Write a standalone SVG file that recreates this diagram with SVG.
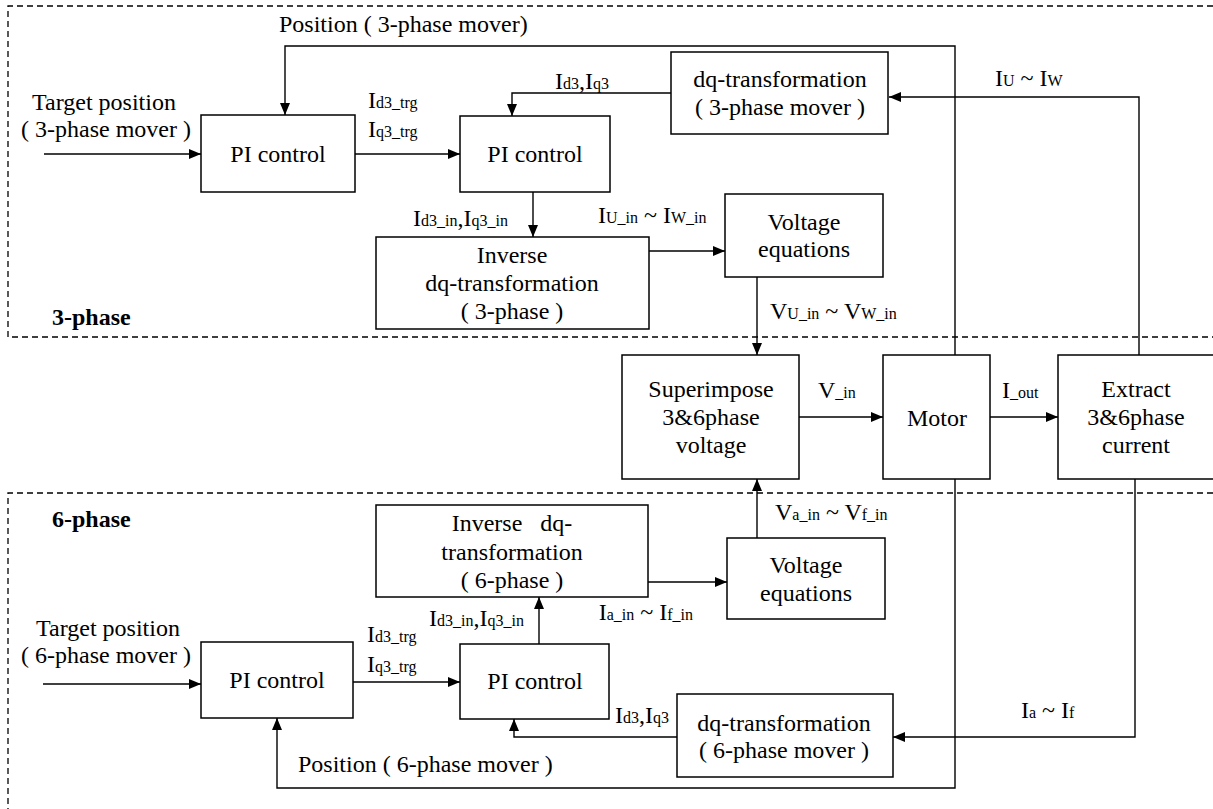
<svg xmlns="http://www.w3.org/2000/svg" width="1213" height="809" viewBox="0 0 1213 809">
<style>
text{font-family:"Liberation Serif","Times New Roman",serif;font-size:24px;fill:#000}
.c{text-anchor:middle}
.e{text-anchor:end}
.b{font-weight:bold}
.s{font-size:16px}
.box{fill:#fff;stroke:#000;stroke-width:1.5}
.ln{fill:none;stroke:#000;stroke-width:1.4}
.ar{fill:none;stroke:#000;stroke-width:1.4;marker-end:url(#ah)}
.dash{fill:none;stroke:#000;stroke-width:1.3;stroke-dasharray:6 4}
</style>
<defs>
<marker id="ah" viewBox="0 0 12 10" refX="12" refY="5" markerWidth="12" markerHeight="10" markerUnits="userSpaceOnUse" orient="auto">
<path d="M0,0 L12,5 L0,10 z" fill="#000"/>
</marker>
</defs>
<rect width="1213" height="809" fill="#fff"/>
<g id="regions">
<path class="dash" d="M1213,6 H8 V337 H1213"/>
<path class="dash" d="M1213,493 H8 V809"/>
<text class="b" x="52" y="325">3-phase</text>
<text class="b" x="52" y="527">6-phase</text>
</g>
<g id="connectors">
<path class="ar" d="M955,355 V46 H285 V115"/>
<path class="ar" d="M44,154 H201"/>
<path class="ar" d="M355,154 H460"/>
<path class="ar" d="M671,93 H512 V116"/>
<path class="ar" d="M1139,355 V97 H889"/>
<path class="ar" d="M533,192 V237"/>
<path class="ar" d="M649,251 H725"/>
<path class="ar" d="M757,277 V355"/>
<path class="ar" d="M799,417 H883"/>
<path class="ar" d="M990,417 H1058"/>
<path class="ar" d="M757,538 V479"/>
<path class="ar" d="M648,582 H727"/>
<path class="ar" d="M539,644 V597"/>
<path class="ar" d="M43,684 H201"/>
<path class="ar" d="M353,682 H460"/>
<path class="ar" d="M677,737 H514 V719"/>
<path class="ar" d="M1135,479 V737 H893"/>
<path class="ar" d="M955,479 V788 H277 V718"/>
</g>
<g id="labels">
<text x="279" y="32">Position ( 3-phase mover)</text>
<text class="c" x="104" y="110">Target position</text>
<text class="c" x="106" y="137">( 3-phase mover )</text>
<text x="368" y="108">I<tspan class="s">d3_trg</tspan></text>
<text x="368" y="137">I<tspan class="s">q3_trg</tspan></text>
<text x="555" y="89">I<tspan class="s">d3</tspan>,I<tspan class="s">q3</tspan></text>
<text x="995" y="86">I<tspan class="s">U</tspan> ~ I<tspan class="s">W</tspan></text>
<text x="413" y="226">I<tspan class="s">d3_in</tspan>,I<tspan class="s">q3_in</tspan></text>
<text x="598" y="223">I<tspan class="s">U_in</tspan> ~ I<tspan class="s">W_in</tspan></text>
<text x="770" y="319">V<tspan class="s">U_in</tspan> ~ V<tspan class="s">W_in</tspan></text>
<text x="818" y="398">V<tspan class="s">_in</tspan></text>
<text x="1002" y="398">I<tspan class="s">_out</tspan></text>
<text x="775" y="520">V<tspan class="s">a_in</tspan> ~ V<tspan class="s">f_in</tspan></text>
<text x="429" y="626">I<tspan class="s">d3_in</tspan>,I<tspan class="s">q3_in</tspan></text>
<text class="e" x="693" y="620">I<tspan class="s">a_in</tspan> ~ I<tspan class="s">f_in</tspan></text>
<text class="c" x="108" y="636">Target position</text>
<text class="c" x="106" y="663">( 6-phase mover )</text>
<text x="367" y="642">I<tspan class="s">d3_trg</tspan></text>
<text x="367" y="672">I<tspan class="s">q3_trg</tspan></text>
<text x="615" y="723">I<tspan class="s">d3</tspan>,I<tspan class="s">q3</tspan></text>
<text x="1021" y="718">I<tspan class="s">a</tspan> ~ I<tspan class="s">f</tspan></text>
<text x="298" y="772">Position ( 6-phase mover )</text>
</g>
<g id="pi1_3">
<rect class="box" x="201" y="115" width="154" height="77"/>
<text class="c" x="278" y="162">PI control</text>
</g>
<g id="pi2_3">
<rect class="box" x="460" y="116" width="150" height="76"/>
<text class="c" x="535" y="162">PI control</text>
</g>
<g id="dq_3">
<rect class="box" x="671" y="52" width="217" height="82"/>
<text class="c" x="780" y="87">dq-transformation</text>
<text class="c" x="780" y="115">( 3-phase mover )</text>
</g>
<g id="inv_3">
<rect class="box" x="376" y="237" width="273" height="92"/>
<text class="c" x="512" y="263">Inverse</text>
<text class="c" x="512" y="291">dq-transformation</text>
<text class="c" x="512" y="319">( 3-phase )</text>
</g>
<g id="veq_3">
<rect class="box" x="725" y="194" width="158" height="83"/>
<text class="c" x="804" y="230">Voltage</text>
<text class="c" x="804" y="257">equations</text>
</g>
<g id="superimpose">
<rect class="box" x="622" y="355" width="177" height="124"/>
<text class="c" x="711" y="397">Superimpose</text>
<text class="c" x="711" y="425">3&amp;6phase</text>
<text class="c" x="711" y="453">voltage</text>
</g>
<g id="motor">
<rect class="box" x="883" y="355" width="107" height="124"/>
<text class="c" x="937" y="426">Motor</text>
</g>
<g id="extract">
<rect class="box" x="1058" y="355" width="160" height="124"/>
<text class="c" x="1136" y="397">Extract</text>
<text class="c" x="1136" y="425">3&amp;6phase</text>
<text class="c" x="1136" y="453">current</text>
</g>
<g id="inv_6">
<rect class="box" x="376" y="505" width="272" height="92"/>
<text class="c" x="512" y="531" xml:space="preserve">Inverse   dq-</text>
<text class="c" x="512" y="560">transformation</text>
<text class="c" x="512" y="588">( 6-phase )</text>
</g>
<g id="veq_6">
<rect class="box" x="727" y="538" width="158" height="81"/>
<text class="c" x="806" y="573">Voltage</text>
<text class="c" x="806" y="601">equations</text>
</g>
<g id="pi1_6">
<rect class="box" x="201" y="642" width="152" height="76"/>
<text class="c" x="277" y="688">PI control</text>
</g>
<g id="pi2_6">
<rect class="box" x="460" y="644" width="149" height="75"/>
<text class="c" x="535" y="689">PI control</text>
</g>
<g id="dq_6">
<rect class="box" x="677" y="694" width="216" height="83"/>
<text class="c" x="784" y="731">dq-transformation</text>
<text class="c" x="784" y="758">( 6-phase mover )</text>
</g>
</svg>
